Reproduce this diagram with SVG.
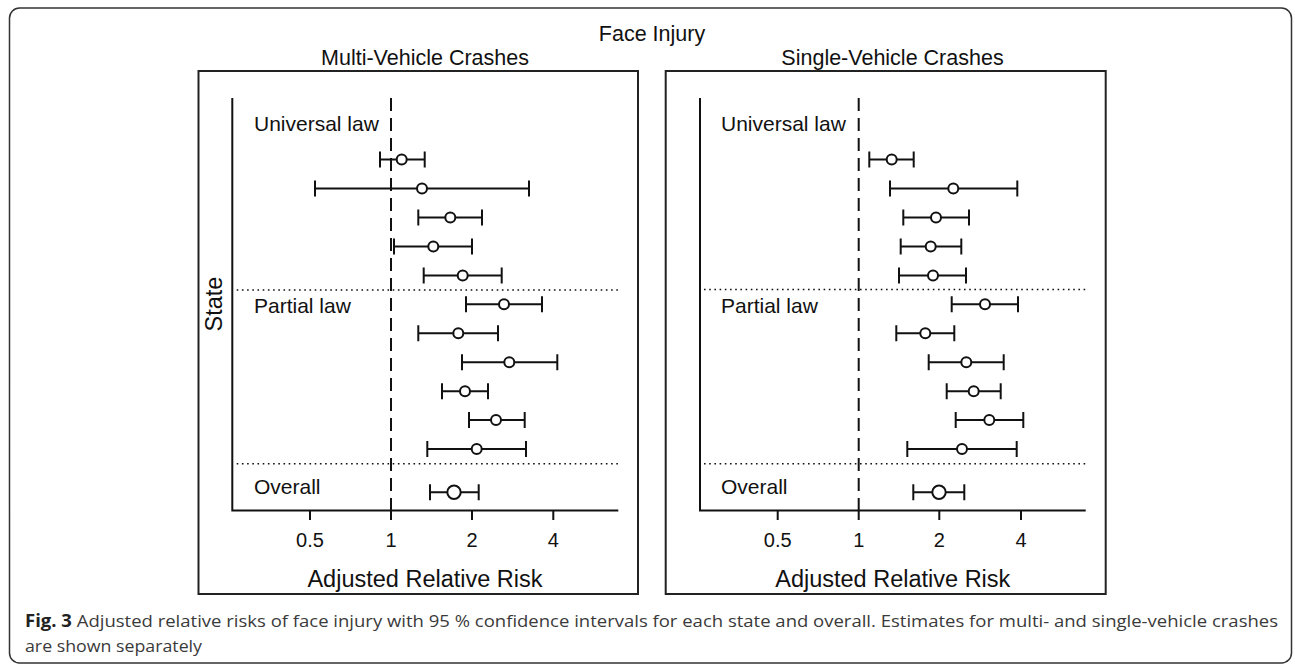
<svg xmlns="http://www.w3.org/2000/svg" width="1295" height="666" viewBox="0 0 1295 666">
<style>
.frame{fill:none;stroke:#333;stroke-width:1.5}
.box{fill:none;stroke:#222;stroke-width:2}
.axis{fill:none;stroke:#111;stroke-width:2}
.ref{fill:none;stroke:#111;stroke-width:2;stroke-dasharray:13 7}
.dot{fill:none;stroke:#111;stroke-width:1.6;stroke-dasharray:1.6 3.6}
.ci{fill:none;stroke:#111;stroke-width:2}
.pt{fill:#fff;stroke:#111;stroke-width:2}
.t{font-family:"Liberation Sans",Arial,sans-serif;fill:#111}
.title{font-size:21.5px}
.lab{font-size:21px}
.tick{font-size:20px}
.axt{font-size:23.5px}
.cap{font-family:"Open Sans","Liberation Sans",sans-serif;font-size:17px;fill:#3a3a3a}
</style>
<rect id="outer" class="frame" x="9.5" y="8" width="1282" height="655" rx="10" ry="10"/>
<text id="main-title" class="t title" x="652" y="41" text-anchor="middle">Face Injury</text>

<g id="panel-multi">
<text class="t title" x="425" y="65" text-anchor="middle">Multi-Vehicle Crashes</text>
<rect class="box" x="198.5" y="71" width="439.5" height="523"/>
<path class="axis" d="M232.3,98V510.5H618.3"/>
<path class="axis" d="M310,510.5V520M391,510.5V520M472,510.5V520M553.3,510.5V520"/>
<text class="t tick" x="310" y="547" text-anchor="middle">0.5</text>
<text class="t tick" x="391" y="547" text-anchor="middle">1</text>
<text class="t tick" x="472" y="547" text-anchor="middle">2</text>
<text class="t tick" x="553.3" y="547" text-anchor="middle">4</text>
<text class="t axt" x="425" y="587" text-anchor="middle">Adjusted Relative Risk</text>
<text class="t axt" transform="translate(222,304) rotate(-90)" text-anchor="middle">State</text>
<path class="dot" d="M236.7,290H618M236.7,463.7H618"/>
<path class="ref" d="M391,98V510.5"/>
<text class="t lab" x="254" y="131">Universal law</text>
<text class="t lab" x="254" y="313">Partial law</text>
<text class="t lab" x="254" y="494">Overall</text>
<g id="ci-multi">
<path class="ci" d="M380,159.5H424.7M380,151.5V167.5M424.7,151.5V167.5"/>
<path class="ci" d="M315,188.5H529M315,180.5V196.5M529,180.5V196.5"/>
<path class="ci" d="M418.3,217.5H482M418.3,209.5V225.5M482,209.5V225.5"/>
<path class="ci" d="M394,246.5H472M394,238.5V254.5M472,238.5V254.5"/>
<path class="ci" d="M423.7,275.5H501.7M423.7,267.5V283.5M501.7,267.5V283.5"/>
<path class="ci" d="M466,304.3H542M466,296.3V312.3M542,296.3V312.3"/>
<path class="ci" d="M418.3,333.3H498M418.3,325.3V341.3M498,325.3V341.3"/>
<path class="ci" d="M462,362.3H557.3M462,354.3V370.3M557.3,354.3V370.3"/>
<path class="ci" d="M442,391.3H488M442,383.3V399.3M488,383.3V399.3"/>
<path class="ci" d="M469,420H524.7M469,412V428M524.7,412V428"/>
<path class="ci" d="M427.3,449H526M427.3,441V457M526,441V457"/>
<path class="ci" d="M430,492.3H478.7M430,484.3V500.3M478.7,484.3V500.3"/>
<circle class="pt" cx="401.7" cy="159.5" r="5"/>
<circle class="pt" cx="422" cy="188.5" r="5"/>
<circle class="pt" cx="450.3" cy="217.5" r="5"/>
<circle class="pt" cx="433.3" cy="246.5" r="5"/>
<circle class="pt" cx="462.7" cy="275.5" r="5"/>
<circle class="pt" cx="504" cy="304.3" r="5"/>
<circle class="pt" cx="458.3" cy="333.3" r="5"/>
<circle class="pt" cx="509.3" cy="362.3" r="5"/>
<circle class="pt" cx="465" cy="391.3" r="5"/>
<circle class="pt" cx="496" cy="420" r="5"/>
<circle class="pt" cx="476.7" cy="449" r="5"/>
<circle class="pt" cx="454" cy="492.3" r="6.7"/>
</g>
</g>

<g id="panel-single">
<text class="t title" x="892.5" y="65" text-anchor="middle">Single-Vehicle Crashes</text>
<rect class="box" x="665.7" y="71" width="440" height="523"/>
<path class="axis" d="M700,98V510.5H1085.7"/>
<path class="axis" d="M777.7,510.5V520M858.7,510.5V520M939.3,510.5V520M1021,510.5V520"/>
<text class="t tick" x="777.7" y="547" text-anchor="middle">0.5</text>
<text class="t tick" x="858.7" y="547" text-anchor="middle">1</text>
<text class="t tick" x="939.3" y="547" text-anchor="middle">2</text>
<text class="t tick" x="1021" y="547" text-anchor="middle">4</text>
<text class="t axt" x="892.8" y="587" text-anchor="middle">Adjusted Relative Risk</text>
<path class="dot" d="M704,289.5H1085.7M704,463.7H1085.7"/>
<path class="ref" d="M858.7,98V510.5"/>
<text class="t lab" x="721" y="131">Universal law</text>
<text class="t lab" x="721" y="313">Partial law</text>
<text class="t lab" x="721" y="494">Overall</text>
<g id="ci-single">
<path class="ci" d="M869.3,159.5H913.7M869.3,151.5V167.5M913.7,151.5V167.5"/>
<path class="ci" d="M890,188.5H1017.3M890,180.5V196.5M1017.3,180.5V196.5"/>
<path class="ci" d="M903.3,217.5H969M903.3,209.5V225.5M969,209.5V225.5"/>
<path class="ci" d="M900.7,246.5H961.3M900.7,238.5V254.5M961.3,238.5V254.5"/>
<path class="ci" d="M899,275.5H966M899,267.5V283.5M966,267.5V283.5"/>
<path class="ci" d="M951.7,304.3H1018M951.7,296.3V312.3M1018,296.3V312.3"/>
<path class="ci" d="M896.3,333.3H954.3M896.3,325.3V341.3M954.3,325.3V341.3"/>
<path class="ci" d="M928.7,362.3H1003.7M928.7,354.3V370.3M1003.7,354.3V370.3"/>
<path class="ci" d="M946.7,391.3H1000.7M946.7,383.3V399.3M1000.7,383.3V399.3"/>
<path class="ci" d="M955.7,420H1023.3M955.7,412V428M1023.3,412V428"/>
<path class="ci" d="M907.3,449H1016.7M907.3,441V457M1016.7,441V457"/>
<path class="ci" d="M913.3,492.3H964.3M913.3,484.3V500.3M964.3,484.3V500.3"/>
<circle class="pt" cx="891.7" cy="159.5" r="5"/>
<circle class="pt" cx="953.3" cy="188.5" r="5"/>
<circle class="pt" cx="936" cy="217.5" r="5"/>
<circle class="pt" cx="930.7" cy="246.5" r="5"/>
<circle class="pt" cx="933" cy="275.5" r="5"/>
<circle class="pt" cx="985" cy="304.3" r="5"/>
<circle class="pt" cx="925.3" cy="333.3" r="5"/>
<circle class="pt" cx="966.3" cy="362.3" r="5"/>
<circle class="pt" cx="973.7" cy="391.3" r="5"/>
<circle class="pt" cx="989.3" cy="420" r="5"/>
<circle class="pt" cx="962" cy="449" r="5"/>
<circle class="pt" cx="939" cy="492.3" r="6.7"/>
</g>
</g>

<g id="caption">
<text class="cap" x="25" y="627" textLength="1253" lengthAdjust="spacingAndGlyphs"><tspan font-weight="bold" fill="#222">Fig. 3</tspan> Adjusted relative risks of face injury with 95 % confidence intervals for each state and overall. Estimates for multi- and single-vehicle crashes</text>
<text class="cap" x="25" y="652" textLength="177" lengthAdjust="spacingAndGlyphs">are shown separately</text>
</g>
</svg>
